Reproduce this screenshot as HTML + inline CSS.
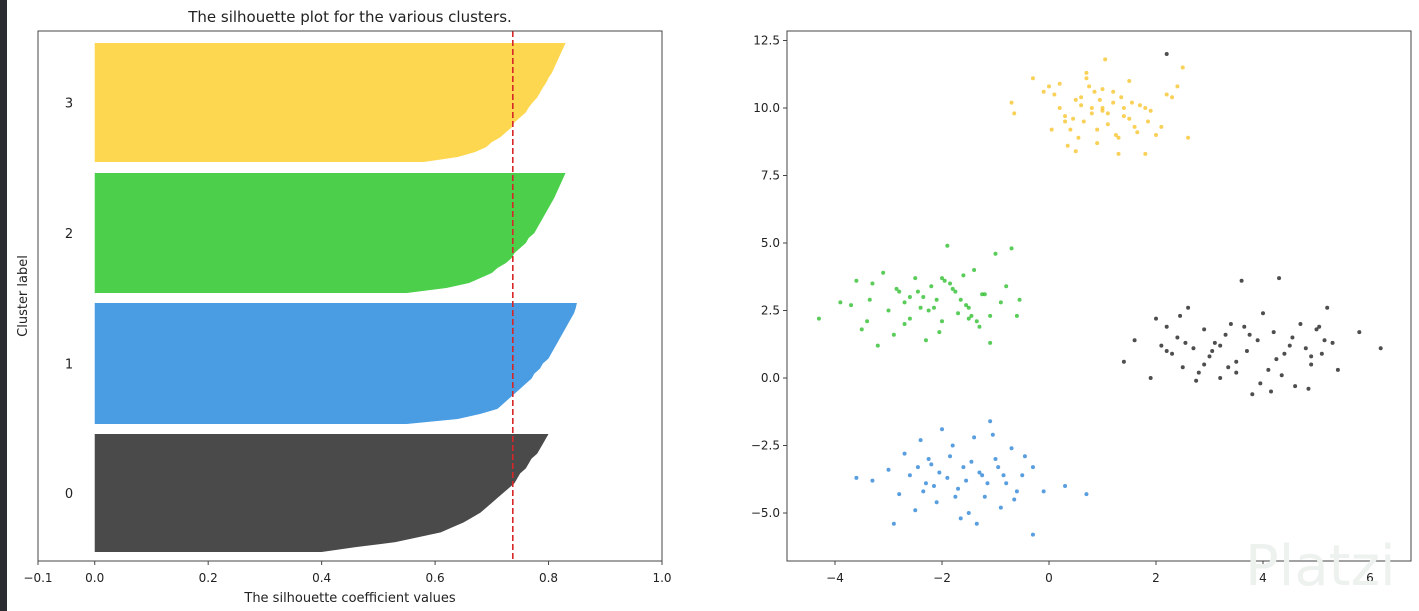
<!DOCTYPE html>
<html><head><meta charset="utf-8">
<style>
html,body{margin:0;padding:0;background:#fff;}
body{width:1419px;height:611px;overflow:hidden;position:relative;font-family:"Liberation Sans","DejaVu Sans",sans-serif;}
#strip{position:absolute;left:0;top:0;width:7px;height:611px;background:#2a2c31;}
svg{position:absolute;left:0;top:0;}
text{font-family:"DejaVu Sans","Liberation Sans",sans-serif;fill:#222;}
</style></head>
<body>
<div id="strip"></div>
<svg id="chart" width="1419" height="611"></svg>
<script>
// ---- silhouette data ----
const clusterLabels = ["0","1","2","3"];
const clusterColors = ["#4a4a4a","#4a9de3","#4cd04c","#fdd74f"];
const silhouette0 = [0.80,0.795,0.79,0.785,0.78,0.77,0.765,0.76,0.75,0.745,0.74,0.73,0.72,0.71,0.70,0.69,0.68,0.665,0.65,0.63,0.61,0.57,0.53,0.46,0.40];
const silhouette1 = [0.85,0.848,0.845,0.84,0.835,0.83,0.825,0.82,0.815,0.81,0.805,0.80,0.79,0.785,0.775,0.77,0.76,0.75,0.74,0.73,0.72,0.71,0.68,0.64,0.55];
const silhouette2 = [0.83,0.826,0.822,0.818,0.814,0.81,0.805,0.80,0.795,0.79,0.785,0.78,0.775,0.765,0.76,0.75,0.74,0.735,0.725,0.71,0.70,0.68,0.66,0.62,0.55];
const silhouette3 = [0.83,0.826,0.822,0.818,0.814,0.81,0.806,0.80,0.796,0.79,0.785,0.78,0.772,0.765,0.76,0.75,0.74,0.735,0.725,0.715,0.70,0.69,0.67,0.64,0.58];
const silhouetteAvg = 0.737;
const silXTicks = [-0.1,0,0.2,0.4,0.6,0.8,1.0];
const silXTickLabels = ["\u22120.1","0.0","0.2","0.4","0.6","0.8","1.0"];
// ---- scatter data ----
const scatterXTicks = [-4,-2,0,2,4,6];
const scatterYTicks = [12.5,10,7.5,5,2.5,0,-2.5,-5];
const cluster3X = [-0.7,-0.65,-0.3,-0.1,0.1,0.2,0.3,0.4,0.5,0.55,0.6,0.7,0.8,0.85,0.9,1.0,1.05,1.1,1.2,1.3,1.4,1.5,1.6,1.7,1.8,1.9,2.0,2.2,2.3,2.4,2.5,2.6,0.0,0.3,0.6,0.9,1.2,1.5,1.8,0.2,0.45,0.75,1.0,1.35,1.65,0.05,0.35,0.65,0.95,1.25,1.55,1.85,2.1,0.5,0.8,1.1,1.4,0.7,1.0,1.3];
const cluster3Y = [10.2,9.8,11.1,10.6,10.5,10.9,9.5,9.2,10.3,8.9,10.1,11.3,9.8,10.6,8.7,10.0,11.8,9.4,10.2,8.9,9.7,11.0,9.3,10.1,8.3,9.9,9.0,10.5,10.4,10.8,11.5,8.9,10.8,9.7,10.4,9.2,10.6,9.6,10.0,10.0,9.6,10.8,9.9,10.4,9.1,9.2,8.6,9.5,10.3,9.0,10.2,9.5,9.3,8.4,10.0,9.8,10.0,11.1,10.7,8.3];
const cluster2X = [-4.3,-3.9,-3.7,-3.5,-3.4,-3.3,-3.2,-3.1,-3.0,-2.9,-2.8,-2.7,-2.6,-2.5,-2.4,-2.3,-2.2,-2.1,-2.0,-1.9,-1.8,-1.7,-1.6,-1.5,-1.4,-1.3,-1.2,-1.1,-1.0,-0.9,-0.8,-0.7,-0.6,-0.55,-2.6,-2.35,-2.15,-1.95,-1.75,-1.55,-1.35,-2.45,-2.25,-2.05,-1.85,-1.65,-1.45,-1.25,-3.35,-2.85,-3.6,-1.1,-2.7,-1.5,-2.0];
const cluster2Y = [2.2,2.8,2.7,1.8,2.1,3.5,1.2,3.9,2.5,1.6,3.2,2.0,3.0,3.7,2.6,1.4,3.4,2.9,2.1,4.9,3.3,2.4,3.8,2.6,4.0,1.9,3.1,2.3,4.6,2.8,3.4,4.8,2.3,2.9,2.2,3.0,2.6,3.6,3.2,2.7,2.1,3.2,2.5,1.7,3.5,2.9,2.3,3.1,2.9,3.3,3.6,1.3,2.8,2.2,3.7];
const cluster0X = [1.4,1.6,1.9,2.0,2.1,2.2,2.3,2.4,2.5,2.6,2.7,2.8,2.9,3.0,3.1,3.2,3.3,3.4,3.5,3.6,3.7,3.8,3.9,4.0,4.1,4.2,4.3,4.4,4.5,4.6,4.7,4.8,4.9,5.0,5.1,5.2,5.3,5.4,5.8,6.2,2.45,2.75,3.05,3.35,3.65,3.95,4.25,4.55,4.85,5.15,2.2,3.5,4.15,4.9,3.2,2.9,3.75,4.35,5.05,2.55];
const cluster0Y = [0.6,1.4,0.0,2.2,1.2,1.9,0.9,1.5,0.4,2.6,1.1,0.2,1.8,0.8,1.3,0.0,1.6,2.0,0.6,3.6,1.0,-0.6,1.4,2.4,0.3,1.7,3.7,0.9,1.2,-0.3,2.0,1.1,0.5,1.8,0.9,2.6,1.3,0.3,1.7,1.1,2.3,-0.1,1.0,0.4,1.9,-0.2,0.7,1.5,-0.4,1.4,1.0,0.2,-0.5,0.8,1.2,0.5,1.6,0.1,1.9,1.3];
const cluster0ExtraX = [2.2];
const cluster0ExtraY = [12.0];
const cluster1X = [-3.6,-3.3,-3.0,-2.9,-2.8,-2.7,-2.6,-2.5,-2.4,-2.3,-2.2,-2.1,-2.0,-1.9,-1.8,-1.7,-1.6,-1.5,-1.4,-1.3,-1.2,-1.1,-1.0,-0.9,-0.8,-0.7,-0.6,-0.5,-0.3,-0.1,0.3,0.7,-2.45,-2.15,-1.85,-1.55,-1.25,-0.95,-0.65,-2.35,-2.05,-1.75,-1.45,-1.15,-0.85,-1.35,-1.65,-2.25,-0.45,-1.05,-0.3];
const cluster1Y = [-3.7,-3.8,-3.4,-5.4,-4.3,-2.8,-3.6,-4.9,-2.3,-3.9,-3.2,-4.6,-1.9,-3.7,-2.5,-4.1,-3.3,-5.0,-2.2,-3.5,-4.4,-1.6,-3.0,-4.8,-3.9,-2.6,-4.2,-3.6,-3.3,-4.2,-4.0,-4.3,-3.3,-4.0,-2.9,-3.8,-3.6,-3.3,-4.5,-4.2,-3.5,-4.4,-3.1,-3.9,-3.6,-5.4,-5.2,-3.0,-2.9,-2.1,-5.8];

const NS = "http://www.w3.org/2000/svg";
const svg = document.getElementById('chart');
function mk(tag, attrs, parent){
  const e = document.createElementNS(NS, tag);
  for (const k in attrs) e.setAttribute(k, attrs[k]);
  (parent||svg).appendChild(e);
  return e;
}
// ---- left axes ----
const L = {x0:38, x1:662, y0:31, y1:561};
const sx = v => L.x0 + (v - (-0.1)) / 1.1 * (L.x1 - L.x0);
const bands = [[434,552],[303,424],[173,293],[43,162]];
const silData = [silhouette0, silhouette1, silhouette2, silhouette3];
const gL = mk('g', {});


silData.forEach((vals, i) => {
  const [top, bot] = bands[i];
  let d = `M${sx(0)},${top}`;
  vals.forEach((v, j) => {
    const y = top + (bot - top) * j / (vals.length - 1);
    d += ` L${sx(v)},${y}`;
  });
  d += ` L${sx(0)},${bot} Z`;
  const p = mk('path', {d, fill: clusterColors[i]}, gL);
  
  
  const t = mk('text', {x: 69, y: (top + bot) / 2 + 5, 'text-anchor': 'middle', 'font-size': 13}, gL);
  t.textContent = clusterLabels[i];
  
  
});
const avg = mk('line', {x1: sx(silhouetteAvg), x2: sx(silhouetteAvg), y1: L.y0, y2: L.y1, stroke: '#d62728', 'stroke-width': 1.6, 'stroke-dasharray': '6,3'}, gL);


const fL = mk('rect', {x: L.x0, y: L.y0, width: L.x1 - L.x0, height: L.y1 - L.y0, fill: 'none', stroke: '#444', 'stroke-width': 1}, gL);


silXTicks.forEach((v, i) => {
  mk('line', {x1: sx(v), x2: sx(v), y1: L.y1, y2: L.y1 + 4, stroke: '#444'}, gL);
  const t = mk('text', {x: sx(v), y: 582, 'text-anchor': 'middle', 'font-size': 12}, gL);
  t.textContent = silXTickLabels[i];
  
  
});
let t = mk('text', {x: 350, y: 22, 'text-anchor': 'middle', 'font-size': 15}, gL);
t.textContent = 'The silhouette plot for the various clusters.';


t = mk('text', {x: 350, y: 602, 'text-anchor': 'middle', 'font-size': 13}, gL);
t.textContent = 'The silhouette coefficient values';


t = mk('text', {x: 0, y: 0, 'text-anchor': 'middle', 'font-size': 13, transform: 'translate(27,296) rotate(-90)'}, gL);
t.textContent = 'Cluster label';



// ---- right axes ----
const R = {x0:787, x1:1411, y0:31, y1:561};
const px = v => 1049 + v * 53.5;
const py = v => 378 - v * 27.0;
const gR = mk('g', {});


const sets = [[cluster0X, cluster0Y, '#222'], [cluster0ExtraX, cluster0ExtraY, '#222'], [cluster1X, cluster1Y, '#2f86d6'], [cluster2X, cluster2Y, '#2fbf2f'], [cluster3X, cluster3Y, '#f7c630']];
sets.forEach(([xs, ys, c]) => {
  xs.forEach((xv, i) => {
    const p = mk('circle', {cx: px(xv), cy: py(ys[i]), r: 2, fill: c, 'fill-opacity': 0.8}, gR);
    
    
  });
});
const fR = mk('rect', {x: R.x0, y: R.y0, width: R.x1 - R.x0, height: R.y1 - R.y0, fill: 'none', stroke: '#444', 'stroke-width': 1}, gR);


scatterXTicks.forEach(v => {
  mk('line', {x1: px(v), x2: px(v), y1: R.y1, y2: R.y1 + 4, stroke: '#444'}, gR);
  const tt = mk('text', {x: px(v), y: 582, 'text-anchor': 'middle', 'font-size': 12}, gR);
  tt.textContent = (v < 0 ? '\u2212' + Math.abs(v) : String(v));
  
  
});
scatterYTicks.forEach(v => {
  mk('line', {x1: R.x0 - 4, x2: R.x0, y1: py(v), y2: py(v), stroke: '#444'}, gR);
  const tt = mk('text', {x: R.x0 - 7, y: py(v) + 4, 'text-anchor': 'end', 'font-size': 12}, gR);
  tt.textContent = (v < 0 ? '\u2212' : '') + Math.abs(v).toFixed(1);
  
  
});
const wm = mk('text', {x: 1245, y: 585, 'font-size': 56, style: 'fill:#eef2ee'}, svg);
wm.textContent = 'Platzi';


</script>
</body></html>
